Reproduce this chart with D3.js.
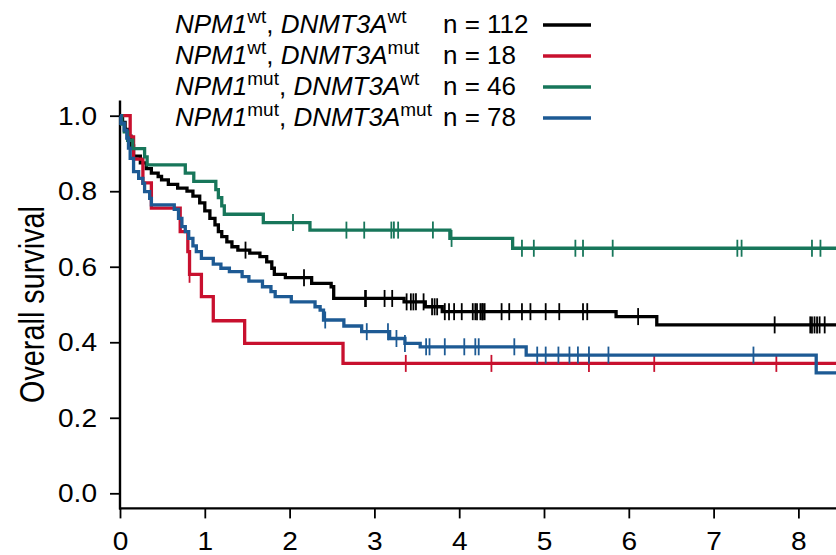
<!DOCTYPE html>
<html>
<head>
<meta charset="utf-8">
<script src="https://cdn.jsdelivr.net/npm/d3@7.9.0/dist/d3.min.js"></script>
<style>
  body { margin: 0; background: #fff; }
  svg { display: block; font-family: "Liberation Sans", Arial, sans-serif; }
</style>
</head>
<body>
<svg id="chart" width="836" height="555"></svg>
<script>
// ---- data ----
const groups = ["wt/wt", "wt/mut", "mut/wt", "mut/mut"];
const npmStatus = ["wt", "wt", "mut", "mut"];
const dnmtStatus = ["wt", "mut", "wt", "mut"];
const counts = [112, 18, 46, 78];
const colors = ["#000000", "#c8102e", "#17765a", "#1d5a94"];

const xTicks = [0, 1, 2, 3, 4, 5, 6, 7, 8];
const yTicks = [0, 0.2, 0.4, 0.6, 0.8, 1.0];

// NPM1 wt, DNMT3A wt
const blackTimes = [0.03, 0.06, 0.10, 0.13, 0.16, 0.24, 0.31, 0.37, 0.45, 0.49, 0.57, 0.68, 0.79, 0.86, 0.94, 1.00, 1.06, 1.12, 1.16, 1.20, 1.26, 1.32, 1.39, 1.53, 1.65, 1.73, 1.79, 1.82, 1.95, 2.26, 2.49, 2.52, 3.35, 3.60, 3.80, 5.85, 6.33];
const blackSurv = [0.982, 0.964, 0.946, 0.920, 0.893, 0.875, 0.860, 0.848, 0.839, 0.830, 0.818, 0.808, 0.800, 0.787, 0.769, 0.748, 0.728, 0.711, 0.693, 0.680, 0.666, 0.653, 0.644, 0.636, 0.627, 0.613, 0.596, 0.580, 0.571, 0.556, 0.547, 0.516, 0.507, 0.494, 0.481, 0.468, 0.446];
const blackCensor = [1.48, 2.17, 2.89, 2.90, 3.12, 3.21, 3.38, 3.43, 3.46, 3.49, 3.58, 3.68, 3.71, 3.74, 3.83, 3.88, 3.94, 4.03, 4.16, 4.19, 4.21, 4.25, 4.27, 4.28, 4.30, 4.50, 4.59, 4.74, 4.84, 5.02, 5.18, 5.46, 5.51, 6.11, 7.72, 8.14, 8.16, 8.19, 8.22, 8.25, 8.31];

// NPM1 wt, DNMT3A mut
const redTimes = [0.12, 0.16, 0.27, 0.37, 0.71, 0.80, 0.82, 0.96, 1.10, 1.47, 2.63];
const redSurv = [0.944, 0.885, 0.822, 0.755, 0.693, 0.640, 0.580, 0.521, 0.457, 0.397, 0.344];
const redCensor = [0.82, 3.37, 4.38, 5.53, 6.30, 7.74];

// NPM1 mut, DNMT3A wt
const greenTimes = [0.02, 0.05, 0.09, 0.15, 0.29, 0.32, 0.77, 0.87, 1.13, 1.16, 1.20, 1.23, 1.69, 2.24, 3.89, 4.63];
const greenSurv = [0.978, 0.957, 0.935, 0.913, 0.891, 0.870, 0.848, 0.826, 0.804, 0.783, 0.761, 0.739, 0.717, 0.697, 0.675, 0.649];
const greenCensor = [2.04, 2.67, 2.88, 3.20, 3.23, 3.28, 3.69, 3.91, 4.74, 4.88, 5.37, 5.46, 5.81, 7.28, 7.33, 8.16, 8.26];

// NPM1 mut, DNMT3A mut
const blueTimes = [0.01, 0.05, 0.08, 0.10, 0.12, 0.16, 0.22, 0.27, 0.29, 0.35, 0.37, 0.64, 0.69, 0.73, 0.77, 0.81, 0.86, 0.90, 0.96, 1.10, 1.19, 1.29, 1.44, 1.52, 1.68, 1.78, 1.83, 2.02, 2.30, 2.36, 2.40, 2.64, 2.85, 3.18, 3.36, 3.54, 4.79, 8.21];
const blueSurv = [0.980, 0.962, 0.941, 0.914, 0.887, 0.852, 0.834, 0.821, 0.799, 0.781, 0.764, 0.752, 0.728, 0.706, 0.693, 0.675, 0.655, 0.640, 0.622, 0.607, 0.596, 0.587, 0.574, 0.562, 0.547, 0.534, 0.521, 0.507, 0.494, 0.485, 0.459, 0.443, 0.428, 0.410, 0.397, 0.388, 0.366, 0.319];
const blueCensor = [2.42, 2.91, 3.16, 3.26, 3.36, 3.61, 3.65, 3.83, 4.06, 4.19, 4.23, 4.65, 4.92, 5.02, 5.17, 5.30, 5.40, 5.53, 5.76, 7.47];

const allTimes = [blackTimes, redTimes, greenTimes, blueTimes];
const allSurv = [blackSurv, redSurv, greenSurv, blueSurv];
const allCensor = [blackCensor, redCensor, greenCensor, blueCensor];
const tEnd = 8.6;

// the figure is a bit stretched sideways, so tick labels get a small x-scale
const stretch = 1.08;

// ---- scales ----
const svg = d3.select("#chart");
const x = d3.scaleLinear().domain([0, 8]).range([120, 798.4]);
const y = d3.scaleLinear().domain([0, 1]).range([493.3, 115.7]);

// step function value at time t
function survAt(times, surv, t) {
  let s = 1;
  times.forEach((tt, i) => { if (tt <= t) s = surv[i]; });
  return s;
}

// ---- axes ----
const axisY = svg.append("g")
  .attr("transform", `translate(${x(0)},0)`)
  .call(d3.axisLeft(y).tickValues(yTicks).tickFormat(d3.format(".1f")).tickSize(10).tickPadding(13));
const axisX = svg.append("g")
  .attr("transform", `translate(0,${y(-0.04)})`)
  .call(d3.axisBottom(x).tickValues(xTicks).tickFormat(d3.format("d")).tickSize(10).tickPadding(13));

[axisY, axisX].forEach(g => {
  g.select(".domain").remove();
  g.selectAll(".tick line").attr("stroke", "#000").attr("stroke-width", 1.8);
  g.selectAll("text").attr("fill", "#000").style("font-size", "26px")
    .style("font-family", "'Liberation Sans', Arial, sans-serif");
});
axisY.selectAll("text")
  .attr("x", -23 / stretch)
  .attr("transform", `scale(${stretch},1)`);
axisX.selectAll("text")
  .attr("transform", `scale(${stretch},1)`);

svg.append("line")
  .attr("x1", x(0)).attr("x2", x(0))
  .attr("y1", y(1.04)).attr("y2", y(-0.04) + 1)
  .attr("stroke", "#000").attr("stroke-width", 2.4);
svg.append("line")
  .attr("x1", x(0) - 1).attr("x2", 836)
  .attr("y1", y(-0.04)).attr("y2", y(-0.04))
  .attr("stroke", "#000").attr("stroke-width", 2.4);

// y label
svg.append("text")
  .attr("transform", `translate(44,${y(0.5)}) rotate(-90)`)
  .attr("text-anchor", "middle")
  .attr("textLength", 197)
  .attr("lengthAdjust", "spacingAndGlyphs")
  .style("font-family", "'Liberation Sans Narrow', 'Liberation Sans', Arial, sans-serif")
  .style("font-size", "35px")
  .text("Overall survival");

// ---- curves ----
const line = d3.line()
  .x(d => x(d[0]))
  .y(d => y(d[1]))
  .curve(d3.curveStepAfter);

groups.forEach((g, i) => {
  const pts = [[0, 1]].concat(allTimes[i].map((t, j) => [t, allSurv[i][j]]));
  pts.push([tEnd, allSurv[i][allSurv[i].length - 1]]);
  svg.append("path")
    .datum(pts)
    .attr("d", line)
    .attr("fill", "none")
    .attr("stroke", colors[i])
    .attr("stroke-width", 3.3)
    .attr("stroke-linejoin", "miter");

  svg.append("g")
    .selectAll("line")
    .data(allCensor[i])
    .join("line")
    .attr("x1", d => x(d)).attr("x2", d => x(d))
    .attr("y1", d => y(survAt(allTimes[i], allSurv[i], d)) - 8.5)
    .attr("y2", d => y(survAt(allTimes[i], allSurv[i], d)) + 8.5)
    .attr("stroke", colors[i])
    .attr("stroke-width", 1.8);
});

// ---- legend ----
const legend = svg.append("g");
groups.forEach((g, i) => {
  const base = 33 + i * 31;
  const t = legend.append("text")
    .attr("x", 175).attr("y", base)
    .style("font-size", "26px").attr("fill", "#000");
  t.append("tspan").style("font-style", "italic").text("NPM1");
  t.append("tspan").attr("dy", -10).style("font-size", "19px").text(npmStatus[i]);
  t.append("tspan").attr("dy", 10).text(", ");
  t.append("tspan").style("font-style", "italic").text("DNMT3A");
  t.append("tspan").attr("dy", -10).style("font-size", "19px").text(dnmtStatus[i]);

  legend.append("text")
    .attr("x", 443).attr("y", base)
    .style("font-size", "26px").attr("fill", "#000")
    .text(`n = ${counts[i]}`);

  legend.append("line")
    .attr("x1", 543).attr("x2", 591)
    .attr("y1", base - 8).attr("y2", base - 8)
    .attr("stroke", colors[i]).attr("stroke-width", 3.3);
});
</script>
</body>
</html>
